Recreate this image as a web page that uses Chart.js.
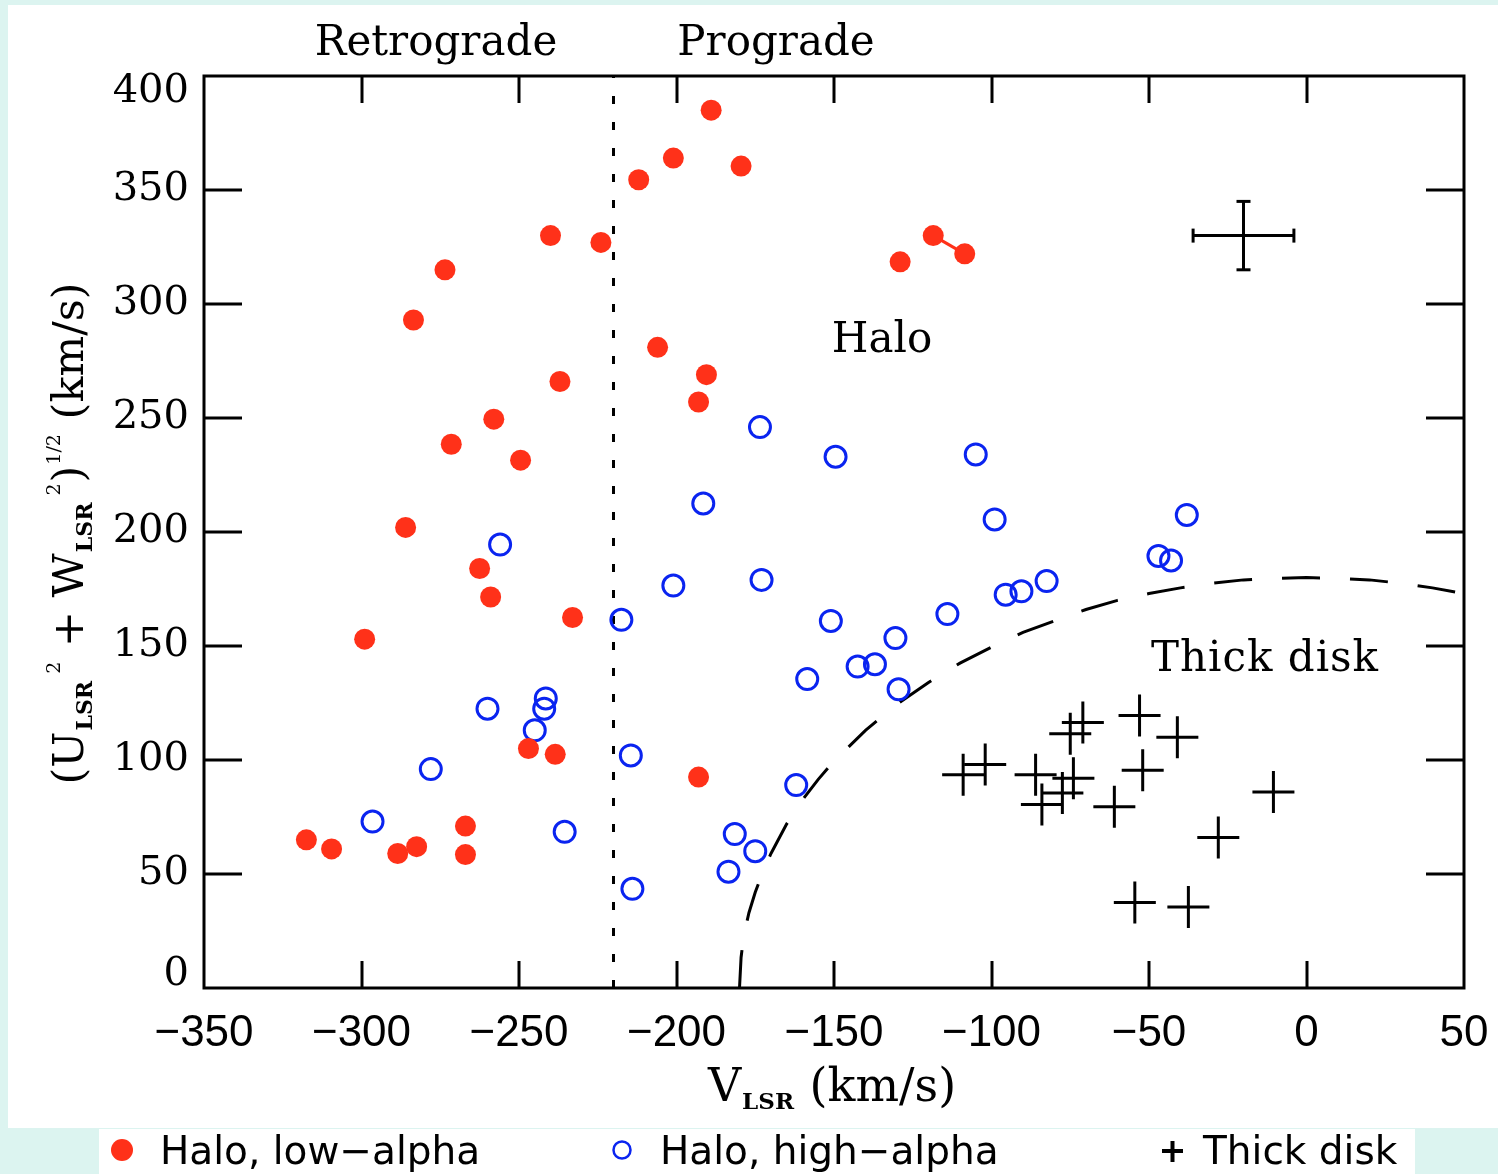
<!DOCTYPE html>
<html><head><meta charset="utf-8">
<script src="https://cdn.jsdelivr.net/npm/chart.js@4.4.1/dist/chart.umd.min.js"></script>
<style>html,body{margin:0;padding:0;background:#dcf4f0;overflow:hidden}#wrap{width:1498px;height:1174px;position:relative}</style>
</head><body><div id="wrap"><canvas id="c" width="1498" height="1174"></canvas></div>
<script>
// ---- data (V_LSR, sqrt(U^2+W^2)) in km/s ----
const lowAlphaV = [-189, -201, -179.5, -212, -240, -224, -118.5, -108.5, -129, -273.5, -283.5, -206, -190.5, -237, -193, -258, -271.5, -249.5, -286, -262.5, -259, -233, -299, -247, -238.5, -193, -317.5, -309.5, -288.5, -282.5, -267, -267];
const lowAlphaR = [385, 364, 360.5, 354.5, 330, 327, 330, 322, 318.5, 315, 293, 281, 269, 266, 257, 249.5, 238.5, 231.5, 202, 184, 171.5, 162.5, 153, 105, 102.5, 92.5, 65, 61, 59, 62, 71, 58.5];
const pairV = [-118.5, -108.5];
const pairR = [330, 322];
const highAlphaV = [-173.5, -149.5, -105, -191.5, -99, -38, -256, -47, -43, -201, -173, -82.5, -95.5, -90.5, -217.5, -151, -114, -130.5, -142.5, -137, -129.5, -158.5, -241.5, -242, -260, -245, -278, -214.5, -162, -296.5, -235.5, -181.5, -175, -183.5, -214];
const highAlphaR = [246, 233, 234, 212.5, 205.5, 207.5, 194.5, 189.5, 187.5, 176.5, 179, 178.5, 172.5, 174, 161.5, 161, 164, 153.5, 141, 142, 131, 135.5, 127, 122.5, 122.5, 113, 96, 102, 89, 73, 68.5, 67.5, 60, 51, 43.5];
const thickV = [-53, -71, -75, -41, -109, -102, -86, -74, -52, -10.5, -84, -77.5, -61, -28, -54.5, -37.5];
const thickR = [119.5, 116.5, 111.5, 110, 93.5, 98, 93.5, 92, 95.5, 86, 80.5, 85.5, 79.5, 66, 37.5, 35.5];
const boundaryV = [-180, -179.5, -179, -178, -177, -175, -172, -170, -165, -160, -155, -150, -140, -130, -120, -110, -100, -90, -80, -70, -60, -50, -40, -30, -20, -10, 0, 10, 20, 30, 40, 50];
const boundaryR = [0, 13.4, 19, 27, 33, 42, 53, 59, 72, 82.5, 91.5, 99.5, 113, 124.5, 134, 142.5, 149.5, 156, 161, 166, 170, 173, 175.5, 177.5, 179, 179.7, 180, 179.7, 179, 177.5, 175.5, 173];
const dividerV = [-220, -220];
const dividerR = [0, 400];
const errV = -20, errR = 330, errDV = 16, errDR = 15;
const xTickLabels = ['\u2212350', '\u2212300', '\u2212250', '\u2212200', '\u2212150', '\u2212100', '\u221250', '0', '50'];
const yTickLabels = ['0', '50', '100', '150', '200', '250', '300', '350', '400'];
const seriesNames = ['Halo, low\u2212alpha', 'Halo, high\u2212alpha', 'Thick disk'];

const RED = '#ff3119';
const BLUE = '#0a24f0';
const pts = (xs, ys) => xs.map((v, i) => ({x: v, y: ys[i]}));

const decor = {
  id: 'decor',
  beforeDraw(chart) {
    const ctx = chart.ctx;
    ctx.save();
    ctx.fillStyle = '#dcf4f0';
    ctx.fillRect(0, 0, 1498, 1174);
    ctx.fillStyle = '#ffffff';
    ctx.fillRect(8, 5, 1490, 1123);
    ctx.fillRect(99, 1129, 1316, 45);
    ctx.restore();
  },
  afterDatasetsDraw(chart) {
    const ctx = chart.ctx, ca = chart.chartArea;
    const xs = chart.scales.x, ys = chart.scales.y;
    ctx.save();
    ctx.strokeStyle = '#000';
    ctx.lineWidth = 3;
    ctx.lineCap = 'butt';
    const line = (a, b, c, d) => { ctx.beginPath(); ctx.moveTo(a, b); ctx.lineTo(c, d); ctx.stroke(); };
    xs.ticks.forEach(t => {
      const p = Math.round(xs.getPixelForValue(t.value));
      if (p <= ca.left + 2 || p >= ca.right - 2) return;
      line(p, ca.bottom, p, ca.bottom - 27);
      line(p, ca.top, p, ca.top + 27);
    });
    ys.ticks.forEach(t => {
      const p = Math.round(ys.getPixelForValue(t.value));
      if (p <= ca.top + 2 || p >= ca.bottom - 2) return;
      line(ca.left, p, ca.left + 38, p);
      line(ca.right, p, ca.right - 38, p);
    });
    ctx.strokeRect(ca.left, ca.top, ca.right - ca.left, ca.bottom - ca.top);

    // representative error bar
    const cx = xs.getPixelForValue(errV), cy = ys.getPixelForValue(errR);
    const x1 = xs.getPixelForValue(errV - errDV), x2 = xs.getPixelForValue(errV + errDV);
    const y1 = ys.getPixelForValue(errR + errDR), y2 = ys.getPixelForValue(errR - errDR);
    line(x1, cy, x2, cy); line(cx, y1, cx, y2);
    line(x1, cy - 7, x1, cy + 7); line(x2, cy - 7, x2, cy + 7);
    line(cx - 7, y1, cx + 7, y1); line(cx - 7, y2, cx + 7, y2);

    // y labels for 0 and 400 (shifted inward)
    ctx.fillStyle = '#000';
    ctx.font = '40px "DejaVu Serif"';
    ctx.textAlign = 'right'; ctx.textBaseline = 'middle';
    ctx.fillText(yTickLabels[8], ca.left - 15, ca.top + 16);
    ctx.fillText(yTickLabels[0], ca.left - 15, ca.bottom - 13);

    // annotations
    ctx.font = '42px "DejaVu Serif"';
    ctx.textAlign = 'center'; ctx.textBaseline = 'alphabetic';
    ctx.fillText('Retrograde', 436, 55);
    ctx.fillText('Prograde', 776, 55);
    ctx.fillText('Halo', 882, 352);
    ctx.letterSpacing = '1px';
    ctx.fillText('Thick disk', 1265, 671);
    ctx.letterSpacing = '0px';

    // x axis title
    ctx.textAlign = 'left';
    const mainF = '46px "DejaVu Serif"', subF = 'bold 23px "DejaVu Serif"';
    ctx.font = mainF; const wV = ctx.measureText('V').width;
    ctx.font = subF; const wL = ctx.measureText('LSR').width;
    ctx.font = mainF; const wK = ctx.measureText(' (km/s)').width;
    let sx = 832 - (wV + wL + 2 + wK) / 2;
    ctx.font = mainF; ctx.fillText('V', sx, 1101); sx += wV + 1;
    ctx.font = subF; ctx.fillText('LSR', sx, 1109); sx += wL + 1;
    ctx.font = mainF; ctx.fillText(' (km/s)', sx, 1101);

    // y axis title (rotated)
    const parts = [
      ['(U', '43px "DejaVu Serif"', 0],
      ['LSR', 'bold 22px "DejaVu Serif"', 9],
      [' 2', '19px "DejaVu Serif"', -23],
      [' + W', '43px "DejaVu Serif"', 0],
      ['LSR', 'bold 22px "DejaVu Serif"', 9],
      [' 2', '19px "DejaVu Serif"', -23],
      [')', '43px "DejaVu Serif"', 0],
      ['1/2', '19px "DejaVu Serif"', -23],
      [' (km/s)', '43px "DejaVu Serif"', 0]
    ];
    let total = 0;
    parts.forEach(p => { ctx.font = p[1]; p.push(ctx.measureText(p[0]).width); total += p[3] + 1; });
    ctx.translate(83, 533);
    ctx.rotate(-Math.PI / 2);
    let pos = -total / 2;
    parts.forEach(p => { ctx.font = p[1]; ctx.fillText(p[0], pos, p[2]); pos += p[3] + 1; });
    ctx.setTransform(1, 0, 0, 1, 0, 0);

    // legend
    ctx.fillStyle = RED;
    ctx.beginPath(); ctx.arc(122, 1150, 11, 0, Math.PI * 2); ctx.fill();
    ctx.strokeStyle = BLUE; ctx.lineWidth = 2.5;
    ctx.beginPath(); ctx.arc(622, 1150, 8.5, 0, Math.PI * 2); ctx.stroke();
    ctx.strokeStyle = '#000'; ctx.lineWidth = 4;
    line(1162, 1151, 1183, 1151); line(1172.5, 1141, 1172.5, 1162);
    ctx.fillStyle = '#000';
    ctx.font = '39px "DejaVu Sans"';
    ctx.textAlign = 'left'; ctx.textBaseline = 'alphabetic';
    ctx.fillText(seriesNames[0], 160, 1164);
    ctx.fillText(seriesNames[1], 660, 1164);
    ctx.fillText(seriesNames[2], 1203, 1164);
    ctx.restore();
  }
};

new Chart(document.getElementById('c'), {
  type: 'scatter',
  data: {
    datasets: [
      {label: seriesNames[0], data: pts(lowAlphaV, lowAlphaR), pointRadius: 10.5, pointHoverRadius: 10.5, pointBackgroundColor: RED, pointBorderWidth: 0, borderWidth: 0},
      {label: 'pair', data: pts(pairV, pairR), showLine: true, borderColor: RED, borderWidth: 3, pointRadius: 0},
      {label: seriesNames[1], data: pts(highAlphaV, highAlphaR), pointRadius: 10.5, pointHoverRadius: 10.5, pointBackgroundColor: 'rgba(0,0,0,0)', pointBorderColor: BLUE, pointBorderWidth: 3},
      {label: seriesNames[2], data: pts(thickV, thickR), pointStyle: 'cross', pointRadius: 21, pointHoverRadius: 21, pointBorderColor: '#000', pointBorderWidth: 3},
      {label: 'boundary', data: pts(boundaryV, boundaryR), showLine: true, borderColor: '#000', borderWidth: 3, borderDash: [38, 30], pointRadius: 0},
      {label: 'divider', data: pts(dividerV, dividerR), showLine: true, borderColor: '#000', borderWidth: 3, borderDash: [8, 18], pointRadius: 0}
    ]
  },
  options: {
    responsive: false, animation: false, devicePixelRatio: 1,
    layout: {padding: {left: 0, right: 34, top: 76, bottom: 0}},
    plugins: {legend: {display: false}, tooltip: {enabled: false}},
    scales: {
      x: {
        type: 'linear', min: -350, max: 50,
        grid: {display: false, drawTicks: false}, border: {display: false},
        ticks: {stepSize: 50, padding: 19, color: '#000', autoSkip: false, maxRotation: 0,
          font: {family: 'Liberation Sans', size: 44}, callback: (v, i) => xTickLabels[i]},
        afterFit: s => { s.height = 186; s.paddingLeft = 0; s.paddingRight = 0; }
      },
      y: {
        type: 'linear', min: 0, max: 400,
        grid: {display: false, drawTicks: false}, border: {display: false},
        ticks: {stepSize: 50, padding: 15, autoSkip: false,
          color: c => (c.index === 0 || c.index === 8) ? 'rgba(0,0,0,0)' : '#000',
          font: {family: 'DejaVu Serif', size: 40}, callback: (v, i) => yTickLabels[i]},
        afterFit: s => { s.width = 204; s.paddingTop = 0; s.paddingBottom = 0; }
      }
    }
  },
  plugins: [decor]
});
</script></body></html>
